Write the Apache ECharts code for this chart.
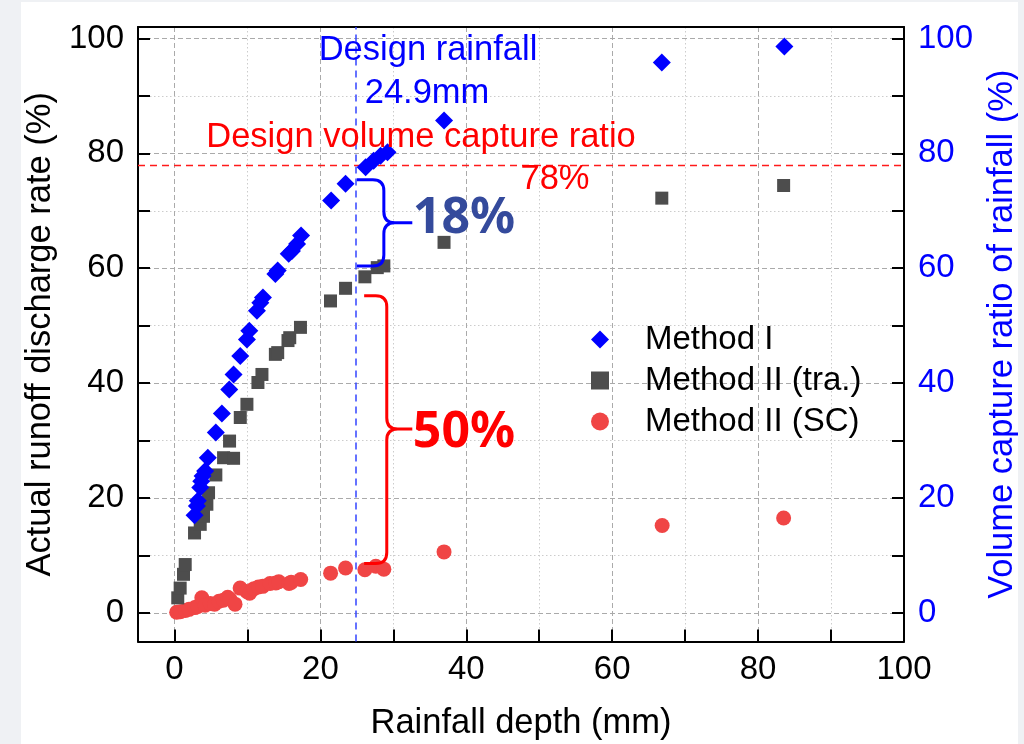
<!DOCTYPE html>
<html>
<head>
<meta charset="utf-8">
<script src="https://cdn.jsdelivr.net/npm/echarts@6/dist/echarts.min.js"></script>
<style>
  html, body { margin: 0; padding: 0; width: 1024px; height: 744px; overflow: hidden; background: #eff1f4; }
  #chart { position: absolute; left: 21px; top: 2px; width: 997px; height: 742px; background: #ffffff; }
</style>
</head>
<body>
<div id="chart"></div>
<script>
// Rainfall depth (mm) vs. rate (%) for each method, as [depth, rate] pairs
const methodI = [
  [2.75, 17.0], [3.07, 18.6], [3.2, 19.5], [3.53, 21.8], [3.67, 22.9], [3.85, 23.8],
  [4.2, 24.7], [4.57, 27.0], [5.67, 31.4], [6.5, 34.7], [7.51, 38.9], [8.1, 41.5],
  [9.02, 44.7], [9.93, 47.6], [10.26, 49.1], [11.3, 52.6], [11.77, 54.0], [12.13, 54.9],
  [13.83, 59.0], [14.15, 59.6], [15.66, 62.5], [16.1, 63.0], [16.8, 64.2], [17.35, 65.7],
  [21.47, 71.8], [23.45, 74.7], [26.2, 77.6], [27.3, 78.7], [28.25, 79.6], [29.2, 80.2],
  [36.95, 85.7], [66.8, 95.8], [83.6, 98.6]
];
const methodIITra = [
  [0.45, 2.6], [0.78, 4.3], [1.24, 6.7], [1.47, 8.4], [2.75, 13.9], [3.53, 15.4],
  [3.98, 16.8], [4.44, 18.9], [4.67, 20.9], [5.67, 24.0], [6.73, 27.0], [8.1, 26.9],
  [7.55, 29.9], [9.02, 34.0], [9.93, 36.3], [11.44, 40.1], [11.99, 41.5], [13.83, 45.0],
  [14.15, 45.3], [15.56, 47.4], [15.8, 47.9], [17.27, 49.7], [21.39, 54.3], [23.45, 56.5],
  [26.1, 58.5], [27.8, 60.1], [28.7, 60.4], [36.95, 64.5], [66.8, 72.2], [83.5, 74.4]
];
const methodIISC = [
  [0.3, 0.1], [0.8, 0.2], [1.5, 0.4], [2.0, 0.6], [2.8, 0.9], [3.2, 1.1], [3.75, 2.6],
  [4.2, 1.3], [4.9, 1.6], [5.5, 1.5], [6.1, 2.0], [6.7, 2.2], [7.3, 2.7], [7.6, 2.4],
  [8.3, 1.5], [9.0, 4.3], [9.9, 3.7], [10.3, 3.4], [10.9, 4.2], [11.5, 4.5], [12.1, 4.6],
  [13.1, 5.1], [13.9, 5.2], [14.3, 5.4], [15.7, 5.1], [16.0, 5.3], [17.3, 5.8],
  [21.4, 6.9], [23.45, 7.8], [26.1, 7.5], [27.6, 8.1], [28.7, 7.6], [36.95, 10.6],
  [66.85, 15.2], [83.5, 16.5]
];

// Design values
const designRainfall = 24.9;   // mm
const designCaptureRatio = 78; // %

// Brace annotations: [left end x, spine x, tip x, top y, tip y, bottom y]
const braceGapI = [[25.0, 28.7, 32.6, 75.4, 67.9, 60.4]];
const braceGapSC = [[26.0, 29.1, 32.6, 55.2, 32.0, 8.6]];

// Tick positions
const majorTicks = [0, 20, 40, 60, 80, 100];
const allTicks = [0, 10, 20, 30, 40, 50, 60, 70, 80, 90, 100];
const minorTicks = [10, 30, 50, 70, 90];

const FONT = 'Liberation Sans, Arial, Helvetica, sans-serif';

function renderBrace(params, api) {
  const r = 11;
  const xl = api.coord([api.value(0), 0])[0];
  const xs = api.coord([api.value(1), 0])[0];
  const xt = api.coord([api.value(2), 0])[0];
  const yt = api.coord([0, api.value(3)])[1];
  const ym = api.coord([0, api.value(4)])[1];
  const yb = api.coord([0, api.value(5)])[1];
  const d = [
    'M', xl, yt, 'L', xs - r, yt, 'Q', xs, yt, xs, yt + r,
    'L', xs, ym - r, 'Q', xs, ym, xs + r, ym, 'L', xt, ym,
    'M', xs + r, ym, 'Q', xs, ym, xs, ym + r,
    'L', xs, yb - r, 'Q', xs, yb, xs - r, yb, 'L', xl, yb
  ].join(' ');
  return {
    type: 'path',
    shape: { pathData: d },
    style: { stroke: api.visual('color'), lineWidth: 3, fill: null }
  };
}

const frameLine = { show: true, onZero: false, lineStyle: { color: '#000', width: 2 } };
const noLine = { show: false, onZero: false };
const hidden = { show: false };

const chart = echarts.init(document.getElementById('chart'), null, { renderer: 'canvas' });
chart.setOption({
  animation: false,
  backgroundColor: '#ffffff',
  textStyle: { fontFamily: FONT },
  grid: { left: 117, right: 114, top: 25, bottom: 102.5, containLabel: false, outerBoundsMode: 'none' },
  xAxis: [
    {
      type: 'value', position: 'bottom', min: -5, max: 100,
      name: 'Rainfall depth (mm)', nameLocation: 'middle', nameGap: 64,
      nameTextStyle: { fontFamily: FONT, fontSize: 34.5, color: '#000' },
      axisLine: frameLine,
      axisTick: { show: true, inside: true, length: 12, customValues: allTicks, lineStyle: { color: '#000', width: 2 } },
      axisLabel: {
        show: true, customValues: majorTicks, margin: 12, fontFamily: FONT, fontSize: 33, color: '#000',
        alignMinLabel: 'center', alignMaxLabel: 'center', hideOverlap: false
      },
      splitLine: hidden, minorTick: hidden
    },
    {
      type: 'value', position: 'top', min: -5, max: 100,
      axisLine: frameLine,
      axisTick: { show: false, customValues: majorTicks },
      axisLabel: hidden,
      splitLine: { show: true, lineStyle: { color: '#aaaaaa', width: 1, type: [5, 3] } }
    },
    {
      type: 'value', position: 'top', min: -5, max: 100,
      axisLine: noLine,
      axisTick: { show: false, customValues: minorTicks },
      axisLabel: hidden,
      splitLine: { show: true, lineStyle: { color: '#cccccc', width: 1, type: [1.5, 2.5] } }
    }
  ],
  yAxis: [
    {
      type: 'value', position: 'left', min: -5, max: 102,
      name: 'Actual runoff discharge rate (%)', nameLocation: 'middle', nameGap: 77, nameRotate: 90,
      nameTextStyle: { fontFamily: FONT, fontSize: 34.5, color: '#000' },
      axisLine: frameLine,
      axisTick: { show: true, inside: true, length: 12, customValues: allTicks, lineStyle: { color: '#000', width: 2 } },
      axisLabel: { show: true, customValues: majorTicks, margin: 14, fontFamily: FONT, fontSize: 33, color: '#000' },
      splitLine: hidden
    },
    {
      type: 'value', position: 'right', min: -5, max: 102,
      name: 'Volume capture ratio of rainfall (%)', nameLocation: 'middle', nameGap: 81, nameRotate: 90,
      nameTextStyle: { fontFamily: FONT, fontSize: 34.5, color: '#0000ff' },
      axisLine: frameLine,
      axisTick: { show: true, inside: true, length: 12, customValues: allTicks, lineStyle: { color: '#000', width: 2 } },
      axisLabel: { show: true, customValues: majorTicks, margin: 14, fontFamily: FONT, fontSize: 33, color: '#0000ff' },
      splitLine: hidden
    },
    {
      type: 'value', position: 'left', min: -5, max: 102,
      axisLine: noLine,
      axisTick: { show: false, customValues: majorTicks },
      axisLabel: hidden,
      splitLine: { show: true, lineStyle: { color: '#aaaaaa', width: 1, type: [5, 3] } }
    },
    {
      type: 'value', position: 'left', min: -5, max: 102,
      axisLine: noLine,
      axisTick: { show: false, customValues: minorTicks },
      axisLabel: hidden,
      splitLine: { show: true, lineStyle: { color: '#cccccc', width: 1, type: [1.5, 2.5] } }
    }
  ],
  legend: {
    orient: 'vertical', left: 565, top: 316,
    itemWidth: 18, itemHeight: 18, itemGap: 8,
    data: ['Method I', 'Method II (tra.)', 'Method II (SC)'],
    textStyle: { fontFamily: FONT, fontSize: 33, color: '#000', lineHeight: 31, padding: [0, 0, 0, 31] }
  },
  series: [
    {
      name: 'Method II (SC)', type: 'scatter', xAxisIndex: 0, yAxisIndex: 0,
      symbol: 'circle', symbolSize: 15,
      itemStyle: { color: '#f04545', opacity: 1 },
      data: methodIISC, z: 3
    },
    {
      name: 'Method II (tra.)', type: 'scatter', xAxisIndex: 0, yAxisIndex: 0,
      symbol: 'rect', symbolSize: 13,
      itemStyle: { color: '#4d4d4d', opacity: 1 },
      data: methodIITra, z: 4
    },
    {
      name: 'Method I', type: 'scatter', xAxisIndex: 0, yAxisIndex: 0,
      symbol: 'diamond', symbolSize: 18,
      itemStyle: { color: '#0000ff', opacity: 1 },
      data: methodI, z: 5,
      markLine: {
        silent: true, symbol: 'none', label: { show: false },
        data: [
          { xAxis: designRainfall, lineStyle: { color: '#3344ff', width: 1.5, type: [7, 5] } },
          { yAxis: designCaptureRatio, lineStyle: { color: '#ff1a1a', width: 1.4, type: [7, 5] } }
        ]
      }
    },
    {
      name: 'gapI', type: 'custom', xAxisIndex: 0, yAxisIndex: 0, silent: true,
      itemStyle: { color: '#0000ff' }, renderItem: renderBrace, data: braceGapI, z: 6
    },
    {
      name: 'gapSC', type: 'custom', xAxisIndex: 0, yAxisIndex: 0, silent: true,
      itemStyle: { color: '#ff0000' }, renderItem: renderBrace, data: braceGapSC, z: 6
    }
  ],
  graphic: [
    { type: 'text', x: 407, y: 48, z: 10, style: { text: 'Design rainfall', font: '34.5px ' + FONT, fill: '#0000ff', align: 'center', verticalAlign: 'middle' } },
    { type: 'text', x: 406, y: 91, z: 10, style: { text: '24.9mm', font: '34.5px ' + FONT, fill: '#0000ff', align: 'center', verticalAlign: 'middle' } },
    { type: 'text', x: 400, y: 135, z: 10, style: { text: 'Design volume capture ratio', font: '34.5px ' + FONT, fill: '#ff0000', align: 'center', verticalAlign: 'middle' } },
    { type: 'text', x: 534, y: 177, z: 10, style: { text: '78%', font: '34.5px ' + FONT, fill: '#ff0000', align: 'center', verticalAlign: 'middle' } },
    { type: 'text', x: 443, y: 217, z: 10, style: { text: '18%', font: 'bold 50px Noto Sans, ' + FONT, fill: '#344a9c', align: 'center', verticalAlign: 'middle' } },
    { type: 'text', x: 443, y: 431, z: 10, style: { text: '50%', font: 'bold 50px Noto Sans, ' + FONT, fill: '#ff0000', align: 'center', verticalAlign: 'middle' } }
  ]
});
</script>
</body>
</html>
